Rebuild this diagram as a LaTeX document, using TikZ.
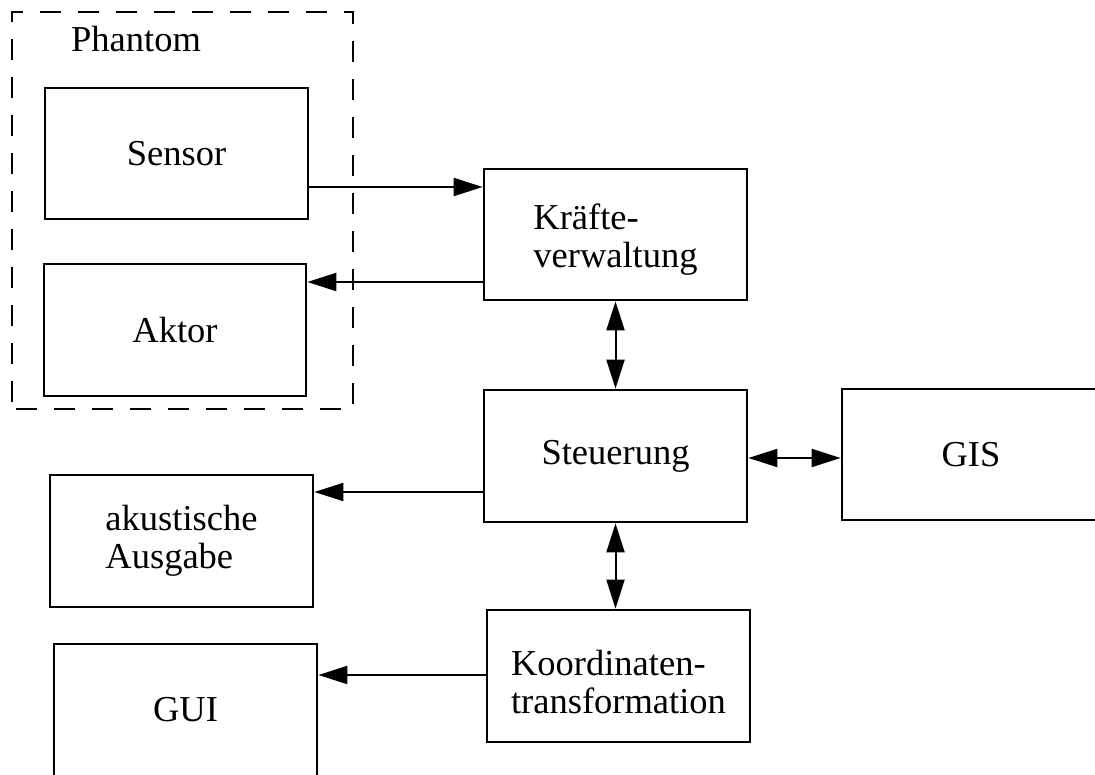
\documentclass[tikz,border=0pt]{standalone}
\usepackage{fontspec}
\setmainfont{Liberation Serif}
\usetikzlibrary{arrows.meta}
\begin{document}
\begin{tikzpicture}[x=1pt,y=-1pt,
  box/.style={draw,line width=2.7pt,rectangle,inner sep=0pt,align=left,
    font=\fontsize{36.5pt}{38pt}\selectfont},
  group/.style={draw,line width=2pt,dash pattern=on 21pt off 17pt,dash phase=-4pt},
  lbl/.style={inner sep=0pt,align=left,font=\fontsize{36.5pt}{38pt}\selectfont},
  conn/.style={line width=2pt,-{Triangle[length=29pt,width=18pt]}},
  conn2/.style={line width=2pt,{Triangle[length=29pt,width=18pt]}-{Triangle[length=29pt,width=18pt]}}]
\useasboundingbox (0,0) rectangle (1095,775);
\clip (0,0) rectangle (1095,775);
% group frame
\node[group,minimum width=341pt,minimum height=397pt] (phantom) at (182.5,210.5) {};
\node[lbl,anchor=base west] (phantomlbl) at (71,52) {Phantom};
% boxes
\node[box,minimum width=263pt,minimum height=131pt] (sensor) at (176.5,153.5) {Sensor};
\node[box,minimum width=262pt,minimum height=132pt] (aktor) at (175,330) {Aktor};
\node[box,minimum width=263pt,minimum height=131pt] (kraefte) at (615.5,234.5) {};
\node[lbl] (kraeftetext) at ([yshift=-5pt]kraefte.center) {Kräfte-\\verwaltung};
\node[box,minimum width=263pt,minimum height=132pt] (steuer) at (615.5,456) {Steuerung};
\node[box,minimum width=258pt,minimum height=131pt] (gis) at (971,454.5) {GIS};
\node[box,minimum width=263pt,minimum height=132pt] (akust) at (181.5,541) {akustische\\Ausgabe};
\node[box,minimum width=263pt,minimum height=132pt] (koord) at (618.5,676) {};
\node[lbl] (koordtext) at ([yshift=-6pt]koord.center) {Koordinaten-\\transformation};
\node[box,minimum width=263pt,minimum height=132pt] (gui) at (185.5,710) {GUI};
% connector heights
\coordinate (ys) at (0,187);
\coordinate (ya) at (0,282);
\coordinate (yg) at (0,458);
\coordinate (yk) at (0,492);
\coordinate (yu) at (0,675);
% connectors
\draw[conn] (sensor.east |- ys) -- (kraefte.west |- ys);
\draw[conn] (kraefte.west |- ya) -- (aktor.east |- ya);
\draw[conn2] (kraefte.south) -- (steuer.north);
\draw[conn2] (steuer.east |- yg) -- (gis.west |- yg);
\draw[conn] (steuer.west |- yk) -- (akust.east |- yk);
\draw[conn2] (steuer.south) -- (steuer.south |- koord.north);
\draw[conn] (koord.west |- yu) -- (gui.east |- yu);
\end{tikzpicture}
\end{document}
